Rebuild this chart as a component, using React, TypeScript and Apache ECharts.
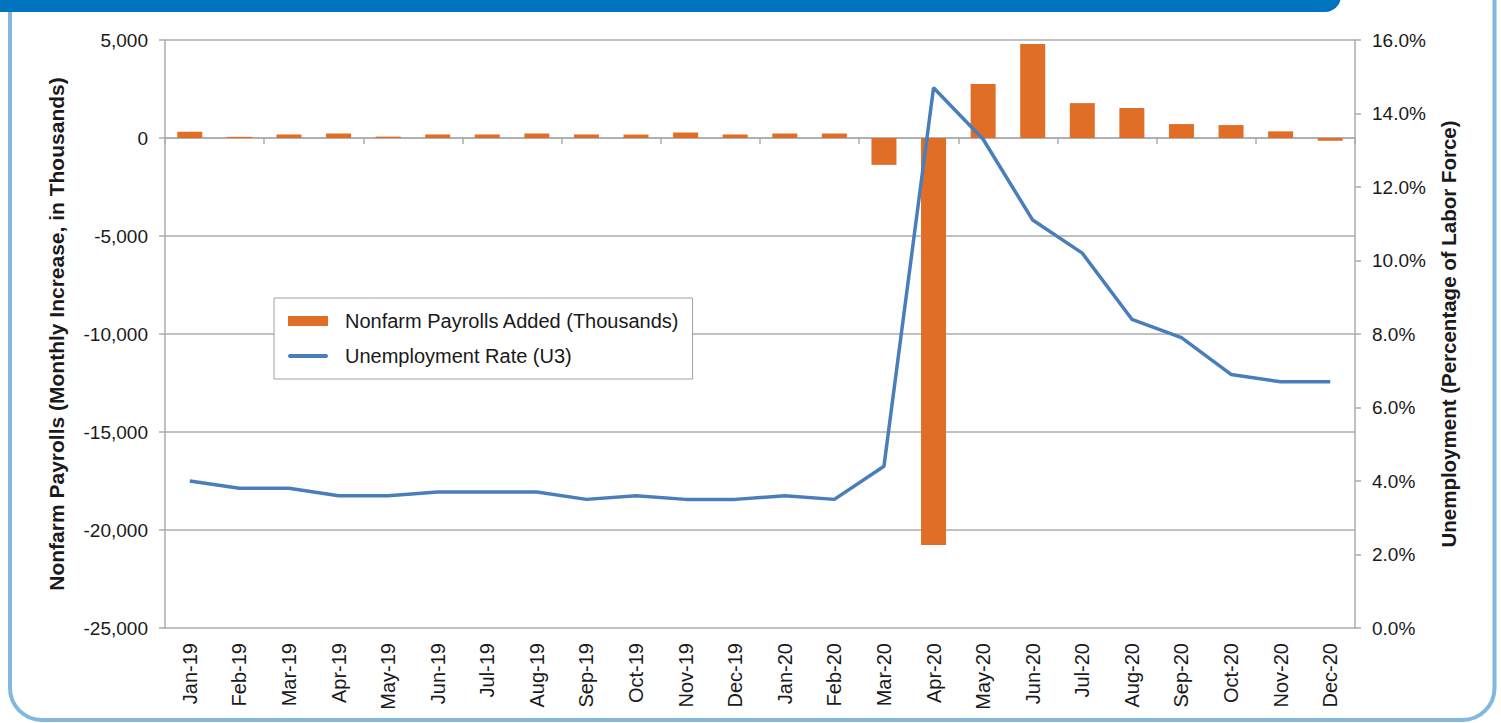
import React, { useEffect, useRef } from "react";
import * as echarts from "echarts";

const categories = [
  "Jan-19", "Feb-19", "Mar-19", "Apr-19", "May-19", "Jun-19", "Jul-19", "Aug-19",
  "Sep-19", "Oct-19", "Nov-19", "Dec-19", "Jan-20", "Feb-20", "Mar-20", "Apr-20",
  "May-20", "Jun-20", "Jul-20", "Aug-20", "Sep-20", "Oct-20", "Nov-20", "Dec-20",
];

const payrolls = [
  320, 60, 180, 230, 70, 180, 180, 230, 180, 175, 280, 180,
  230, 230, -1370, -20770, 2750, 4800, 1780, 1530, 710, 660, 340, -140,
];

const unemployment = [
  4.0, 3.8, 3.8, 3.6, 3.6, 3.7, 3.7, 3.7, 3.5, 3.6, 3.5, 3.5,
  3.6, 3.5, 4.4, 14.7, 13.3, 11.1, 10.2, 8.4, 7.9, 6.9, 6.7, 6.7,
];

const barName = "Nonfarm Payrolls Added (Thousands)";
const lineName = "Unemployment Rate (U3)";
const leftTitle = "Nonfarm Payrolls (Monthly Increase, in Thousands)";
const rightTitle = "Unemployment (Percentage of Labor Force)";

export default function App() {
  const ref = useRef<HTMLDivElement>(null);
  useEffect(() => {
    const chart = echarts.init(ref.current!, null, { renderer: "svg" });
    const font = "'Liberation Sans', Arial, Helvetica, sans-serif";
    const gray = "#ababab";
    const ink = "#1a1a1a";
    chart.setOption({
      animation: false,
      textStyle: { fontFamily: font },
      graphic: [
        {
          type: "rect",
          z: 0,
          shape: { x: 10, y: -40, width: 1484.5, height: 760, r: 32 },
          style: { fill: "none", stroke: "#82b8df", lineWidth: 4 },
        },
        {
          type: "rect",
          z: 1,
          shape: { x: -20, y: -40, width: 1361, height: 52, r: [0, 0, 16, 0] },
          style: { fill: "#0073bf" },
        },
      ],
      grid: { left: 165, right: 146, top: 40, bottom: 95 },
      legend: {
        orient: "vertical",
        left: 274,
        top: 298,
        padding: [13, 13, 13, 14],
        itemGap: 15,
        itemWidth: 40,
        itemHeight: 10,
        borderColor: "#a0a0a0",
        borderWidth: 1,
        backgroundColor: "#ffffff",
        textStyle: { fontSize: 20, color: ink, padding: [0, 0, 0, 12] },
        data: [
          { name: barName, icon: "rect" },
          {
            name: lineName,
            icon: "path://M2,0 L38,0 A2,2 0 0 1 38,4 L2,4 A2,2 0 0 1 2,0 Z",
          },
        ],
      },
      xAxis: [
        {
          type: "category",
          data: categories,
          position: "bottom",
          boundaryGap: true,
          axisLine: { onZero: true, onZeroAxisIndex: 0, lineStyle: { color: gray, width: 1.5 } },
          axisTick: { show: true, length: 6, lineStyle: { color: gray, width: 1.5 } },
          axisLabel: { show: false },
          splitLine: { show: false },
        },
        {
          type: "category",
          data: categories,
          position: "bottom",
          boundaryGap: true,
          axisLine: { show: false, onZero: false },
          axisTick: { show: false },
          axisLabel: { rotate: 90, fontSize: 20, color: ink, margin: 15, interval: 0 },
          splitLine: { show: false },
        },
      ],
      yAxis: [
        {
          type: "value",
          position: "left",
          min: -25000,
          max: 5000,
          interval: 5000,
          name: leftTitle,
          nameLocation: "middle",
          nameGap: 98,
          nameRotate: 90,
          nameTextStyle: { fontSize: 21, fontWeight: "bold", color: ink },
          axisLine: { show: true, lineStyle: { color: gray, width: 1.5 } },
          axisTick: { show: true, length: 6, lineStyle: { color: gray, width: 1.5 } },
          axisLabel: {
            fontSize: 19,
            color: ink,
            margin: 17,
            formatter: (v: number) => v.toLocaleString("en-US"),
          },
          splitLine: { show: true, lineStyle: { color: gray, width: 1.5 } },
        },
        {
          type: "value",
          position: "right",
          min: 0,
          max: 16,
          interval: 2,
          name: rightTitle,
          nameLocation: "middle",
          nameGap: 83,
          nameRotate: 90,
          nameTextStyle: { fontSize: 20.5, fontWeight: "bold", color: ink },
          axisLine: { show: true, lineStyle: { color: gray, width: 1.5 } },
          axisTick: { show: true, length: 6, lineStyle: { color: gray, width: 1.5 } },
          axisLabel: {
            fontSize: 19,
            color: ink,
            margin: 17,
            formatter: (v: number) => v.toFixed(1) + "%",
          },
          splitLine: { show: false },
        },
      ],
      series: [
        {
          name: barName,
          type: "bar",
          xAxisIndex: 0,
          yAxisIndex: 0,
          data: payrolls,
          barWidth: 25,
          itemStyle: { color: "#e06e26" },
        },
        {
          name: lineName,
          type: "line",
          xAxisIndex: 0,
          yAxisIndex: 1,
          data: unemployment,
          symbol: "none",
          lineStyle: { color: "#4a7ebb", width: 3.5 },
          itemStyle: { color: "#4a7ebb" },
        },
      ],
    });
    return () => chart.dispose();
  }, []);
  return (
    <div
      ref={ref}
      style={{ position: "absolute", left: 0, top: 0, width: 1501, height: 723 }}
    />
  );
}
